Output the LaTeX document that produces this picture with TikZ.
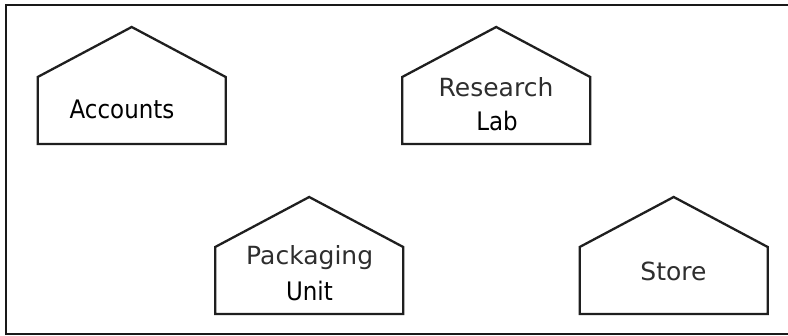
\documentclass[tikz,border=0pt]{standalone}
\usepackage{fontspec}
\setmainfont{DejaVu Sans}
\newfontfamily\condfont{DejaVu Sans Condensed}
\begin{document}
\begin{tikzpicture}[x=1pt, y=-1pt,
  frameline/.style={line width=2.4pt, black!90},
  houseline/.style={line width=2.3pt, black!88, line join=miter},
  lighttext/.style={anchor=base, inner sep=0pt, text=black!82, font=\fontsize{25}{30}\selectfont},
  darktext/.style={anchor=base, inner sep=0pt, text=black, font=\condfont\fontsize{25.5}{30}\selectfont},
  house/.pic={
    \draw[houseline] (-94,0) -- (-94,-67) -- (0,-117) -- (94,-67) -- (94,0) -- cycle;
  }]
  \useasboundingbox (0,0) rectangle (788,336);

  % outer frame: open on the right, runs past the page edge
  \coordinate (ftr) at (796,5);
  \coordinate (ftl) at (6,5);
  \coordinate (fbl) at (6,334);
  \coordinate (fbr) at (796,334);
  \draw[frameline] (ftr) -- (ftl) -- (fbl) -- (fbr);

  % buildings (bottom-centre points)
  \coordinate (accounts) at (131.7,144);
  \coordinate (research) at (496.2,144);
  \coordinate (packaging) at (309.2,314);
  \coordinate (store) at (673.7,314);
  \pic at (accounts) {house};
  \pic at (research) {house};
  \pic at (packaging) {house};
  \pic at (store) {house};

  % labels
  \node[darktext] (tAccounts) at (122,118.3) {Accounts};
  \node[lighttext] (tResearch) at (496,96.7) {Research};
  \node[darktext] (tLab) at (497,131) {Lab};
  \node[lighttext] (tPackaging) at (309.7,264.3) {Packaging};
  \node[darktext] (tUnit) at (309.5,301) {Unit};
  \node[lighttext] (tStore) at (673.5,280.7) {Store};
\end{tikzpicture}
\end{document}
